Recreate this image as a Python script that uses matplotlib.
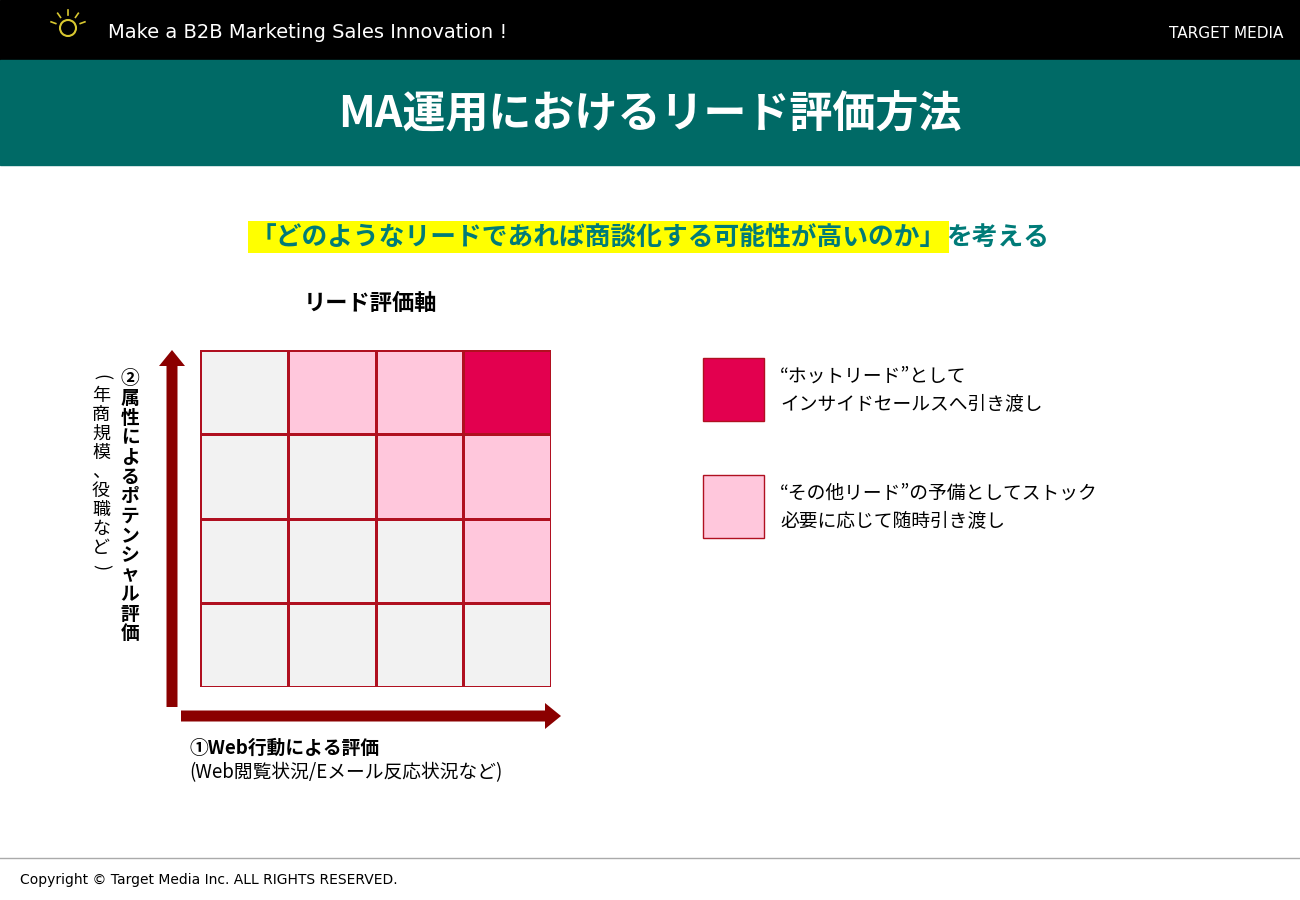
import numpy as np
import matplotlib.pyplot as plt
from matplotlib.colors import ListedColormap
from matplotlib.patches import Rectangle, FancyArrow

plt.rcParams['font.family'] = ['Noto Sans CJK JP', 'DejaVu Sans']

# grid levels: 0 = normal, 1 = other lead (stock), 2 = hot lead (top row first)
levels = [[0, 1, 1, 2],
          [0, 0, 1, 1],
          [0, 0, 0, 1],
          [0, 0, 0, 0]]
level_colors = ['#f2f2f2', '#ffc7dc', '#e3004f']
legend_labels = ['“ホットリード”として\nインサイドセールスへ引き渡し',
                 '“その他リード”の予備としてストック\n必要に応じて随時引き渡し']
legend_levels = [2, 1]

fig = plt.figure(figsize=(13, 9), dpi=100)
ax = fig.add_axes([0, 0, 1, 1])
ax.set_xlim(0, 1300)
ax.set_ylim(900, 0)
ax.axis('off')

# header bands
ax.add_patch(Rectangle((0, 0), 1300, 60, color='black'))
ax.add_patch(Rectangle((0, 60), 1300, 105, color='#006a66'))
ax.text(108, 32, 'Make a B2B Marketing Sales Innovation !', color='white',
        fontsize=14, va='center', family='DejaVu Sans')
ax.add_patch(plt.Circle((68, 28), 8, fill=False, ec='#d9c830', lw=1.5))
for a in np.linspace(200, 340, 5):
    r = np.deg2rad(a)
    ax.plot([68 + 13 * np.cos(r), 68 + 18 * np.cos(r)],
            [28 + 13 * np.sin(r), 28 + 18 * np.sin(r)],
            color='#d9c830', lw=1.2)
ax.text(1226, 33, 'TARGET MEDIA', color='white', fontsize=11, va='center',
        ha='center', family='DejaVu Sans')
ax.text(650, 114, 'MA運用におけるリード評価方法', color='white', fontsize=31,
        fontweight='bold', ha='center', va='center')

# subtitle
ax.text(946, 237, '「どのようなリードであれば商談化する可能性が高いのか」', fontsize=18.5,
        fontweight='bold', ha='right', va='center', color='#007b78',
        bbox=dict(boxstyle='square,pad=0.1', fc='#ffff00', ec='none'))
ax.text(946, 237, 'を考える', fontsize=18.5, fontweight='bold', ha='left',
        va='center', color='#007b78')
ax.text(370, 304, 'リード評価軸', fontsize=16, fontweight='bold', ha='center',
        va='center')

# grid
gax = fig.add_axes([200 / 1300, 1 - 687 / 900, 351 / 1300, 337 / 900])
gax.pcolormesh(np.array(levels)[::-1], cmap=ListedColormap(level_colors),
               vmin=-0.5, vmax=2.5, edgecolors='#b01020', linewidth=1)
gax.axis('off')

# arrows
ax.add_patch(FancyArrow(172, 707, 0, -357, width=11, head_width=26,
                        head_length=16, length_includes_head=True,
                        color='#8b0000', lw=0))
ax.add_patch(FancyArrow(181, 716, 380, 0, width=11, head_width=26,
                        head_length=16, length_includes_head=True,
                        color='#8b0000', lw=0))

# vertical labels
for i, ch in enumerate('②属性によるポテンシャル評価'):
    ax.text(130, 379 + i * 19.6, ch, fontsize=13.5, fontweight='bold',
            ha='center', va='center')
for i, ch in enumerate('(年商規模、役職など)'):
    rot = -90 if ch in '()' else 0
    ax.text(101, 377 + i * 19, ch, fontsize=13, ha='center',
            va='center', rotation=rot)

ax.text(189, 748, '①Web行動による評価', fontsize=13.5, fontweight='bold', va='center')
ax.text(189, 773, '(Web閲覧状況/Eメール反応状況など)', fontsize=13.5, va='center')

# legend
for k, (lab, lv) in enumerate(zip(legend_labels, legend_levels)):
    y0 = 358 + k * 117
    ax.add_patch(Rectangle((703, y0), 61, 63, fc=level_colors[lv],
                           ec='#b01020', lw=1))
    ax.text(780, y0 + 32, lab, fontsize=13.5, va='center', linespacing=1.45)

# footer
ax.plot([0, 1300], [858, 858], color='#aaaaaa', lw=1)
ax.text(20, 880, 'Copyright © Target Media Inc. ALL RIGHTS RESERVED.',
        fontsize=10, va='center', family='DejaVu Sans')

fig.savefig('out.png', dpi=100)
